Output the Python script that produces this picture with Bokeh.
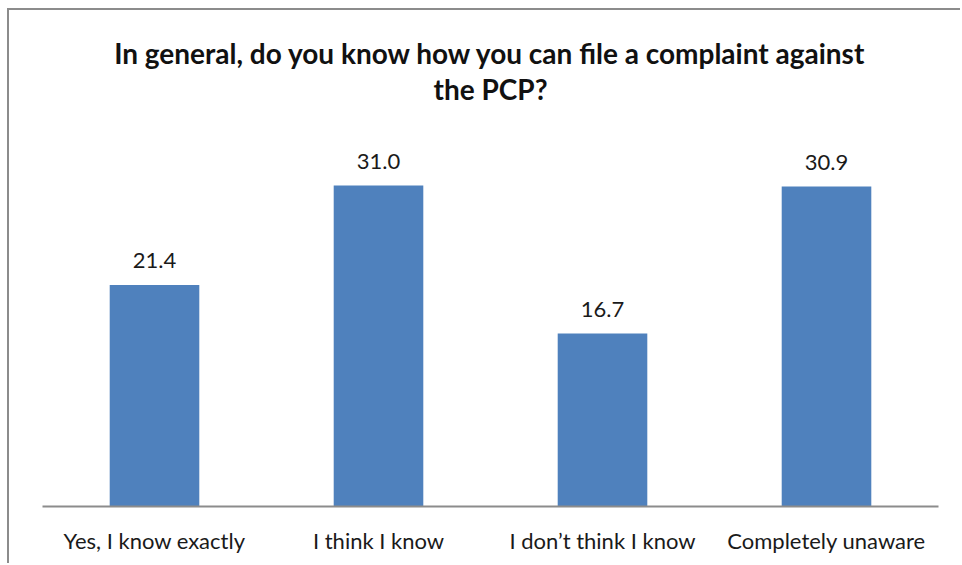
from bokeh.plotting import figure
from bokeh.models import ColumnDataSource, LabelSet, Label, Range1d, FactorRange
from bokeh.core.properties import value
from bokeh.embed import file_html
from bokeh.resources import INLINE

categories = ["Yes, I know exactly", "I think I know", "I don\u2019t think I know", "Completely unaware"]
values = [21.4, 31.0, 16.7, 30.9]
value_labels = ["21.4", "31.0", "16.7", "30.9"]
title_lines = ["In general, do you know how you can file a complaint against", "the PCP?"]

FONT = "Lato"

# page geometry (canvas starts at x=9, y=10 after margin + border)
OX, OY = 9, 10
AXIS_Y = 506
PX_PER_UNIT = (506 - 185) / 31.0

src = ColumnDataSource(dict(cat=categories, val=values, lab=value_labels))

frame_h = AXIS_Y - OY
p = figure(width=962 - OX, height=565 - OY,
           x_range=FactorRange(*categories, range_padding=0),
           y_range=Range1d(0, frame_h / PX_PER_UNIT),
           output_backend="svg", toolbar_location=None,
           min_border_left=42 - OX, min_border_right=24, min_border_top=0,
           min_border_bottom=565 - AXIS_Y)
p.margin = (8, 0, 0, 7)
p.styles = {"border-left": "2px solid #8c8c8c", "border-top": "2px solid #8c8c8c"}
p.outline_line_color = None
p.grid.visible = False
p.yaxis.visible = False
p.background_fill_color = "white"
p.border_fill_color = "white"

p.vbar(x="cat", top="val", width=0.40, source=src, fill_color="#4F81BD", line_color=None)

p.add_layout(LabelSet(x="cat", y="val", text="lab", source=src, text_align="center",
                      text_baseline="alphabetic", y_offset=17, text_font=value(FONT),
                      text_font_size="22px", text_color="#1a1a1a"))

xa = p.xaxis[0]
xa.axis_line_color = "#8c8c8c"
xa.axis_line_width = 2
xa.major_tick_line_color = None
xa.minor_tick_line_color = None
xa.major_label_text_font = FONT
xa.major_label_text_font_size = "22px"
xa.major_label_text_color = "#1a1a1a"
xa.major_label_standoff = 14

for line, by in zip(title_lines, [52, 88]):
    p.add_layout(Label(x=2.0, y=(AXIS_Y - by) / PX_PER_UNIT, text=line, text_align="center",
                       text_baseline="alphabetic", text_font=FONT, text_font_style="bold",
                       text_font_size="28px", text_color="#111111"))

open("out.html", "w").write(file_html(p, INLINE))
